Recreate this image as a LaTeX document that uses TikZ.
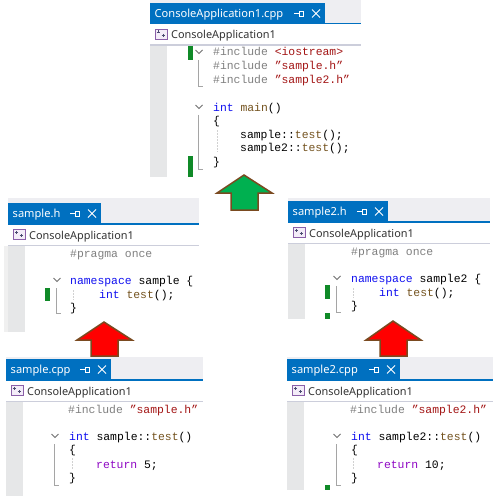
\documentclass[tikz,border=0pt]{standalone}
\usepackage{fontspec}
\setmainfont{Noto Sans}
\setmonofont{Liberation Mono}
\definecolor{vsblue}{HTML}{0070C0}
\definecolor{tabblue}{HTML}{0070C0}
\definecolor{strip}{HTML}{EEEEF2}
\definecolor{gutter}{HTML}{E6E7E8}
\definecolor{hline}{HTML}{CCCEDB}
\definecolor{barg}{HTML}{108A28}
\definecolor{kw}{HTML}{1010F0}
\definecolor{str}{HTML}{A31515}
\definecolor{fn}{HTML}{74531F}
\definecolor{pp}{HTML}{808080}
\definecolor{ctl}{HTML}{8F08C4}
\definecolor{foldc}{HTML}{A5A5A5}
\definecolor{chev}{HTML}{707070}
\definecolor{arrowedge}{HTML}{7A4A20}
\definecolor{iconedge}{HTML}{8A5FA8}
\definecolor{iconfill}{HTML}{F3ECF8}
\definecolor{iconplus}{HTML}{4A4A70}
\newcommand{\kwd}[1]{\textcolor{kw}{#1}}
\newcommand{\strg}[1]{\textcolor{str}{#1}}
\newcommand{\fnc}[1]{\textcolor{fn}{#1}}
\newcommand{\prep}[1]{\textcolor{pp}{#1}}
\newcommand{\ctlk}[1]{\textcolor{ctl}{#1}}
% #1 name, #2 left, #3 right, #4 top of strip, #5 tab top, #6 tab right, #7 bottom, #8 tab title
\newcommand{\panel}[8]{%
  \fill[white] (#2,#4) rectangle (#3,#7);
  \fill[strip] (#2,#4) rectangle (#3,#5+21);
  \fill[vsblue] (#2,#5+20) rectangle (#3,#5+21.5);
  \fill[tabblue] (#2,#5) rectangle (#6,#5+21);
  \fill[gutter] (#2,#5+42) rectangle (#2+17,#7);
  \fill[hline] (#2,#5+41.5) rectangle (#3,#5+43);
  \node[tabtext] (#1title) at (#2+4.5,#5+14.5) {#8};
  \draw[white,line width=.9pt] (#6-13,#5+6.5) -- (#6-5,#5+14.5) (#6-13,#5+14.5) -- (#6-5,#5+6.5);
  \draw[white,line width=.8pt] (#6-31,#5+10.5) -- (#6-26,#5+10.5) (#6-26,#5+8) -- (#6-26,#5+13) (#6-26,#5+8) -- (#6-22,#5+8) -- (#6-22,#5+13) -- (#6-26,#5+13);
  \draw[iconbox] (#2+5,#5+26) rectangle (#2+17,#5+36);
  \draw[iconplus,line width=.6pt] (#2+6.5,#5+29) -- (#2+9.5,#5+29) (#2+8,#5+27.5) -- (#2+8,#5+30.5) (#2+11.5,#5+32.5) -- (#2+15,#5+32.5) (#2+13.2,#5+31) -- (#2+13.2,#5+34);
  \node[hdrtext] (#1hdr) at (#2+21,#5+36) {ConsoleApplication1};
}
% #1 x, #2 y of chevron, #3 y of foot
\newcommand{\foldmark}[3]{%
  \draw[chev,line width=.9pt] (#1-3.5,#2-2) -- (#1,#2+1.5) -- (#1+3.5,#2-2);
  \draw[foldc,line width=.7pt] (#1-.5,#2+8) -- (#1-.5,#3) -- (#1+4,#3);
}
\tikzset{
  code/.style={anchor=base west,inner sep=0pt,font=\ttfamily\fontsize{11.4}{12}\selectfont},
  tabtext/.style={anchor=base west,inner sep=0pt,text=white,font=\fontsize{11.1}{12}\selectfont},
  hdrtext/.style={anchor=base west,inner sep=0pt,text=black!80,font=\fontsize{10.9}{12}\selectfont},
  iconbox/.style={draw=iconedge,fill=iconfill,line width=.7pt},
  greenbar/.style={fill=barg},
  guide/.style={draw=black!18,line width=.7pt,dash pattern=on 1.5pt off 1.5pt},
  bigarrow/.style={draw=arrowedge,line width=1.5pt,line join=miter},
}
\begin{document}
\begin{tikzpicture}[x=1pt,y=-1pt]
\useasboundingbox (0,0) rectangle (496,500);
\fill[white] (0,0) rectangle (496,500);

% main panel
\panel{a}{150}{361}{0}{3}{325}{177}{ConsoleApplication1.cpp}
\fill[greenbar] (188,46) rectangle (193,60);
\fill[greenbar] (188,156) rectangle (193,177);
\foldmark{199}{52}{86}
\foldmark{199}{107}{169}
\draw[guide] (217,130) -- (217,152);
\node[code] (a1) at (213,56) {\prep{\#include} \strg{<iostream>}};
\node[code] (a2) at (213,70) {\prep{\#include} \strg{”sample.h”}};
\node[code] (a3) at (213,83.5) {\prep{\#include} \strg{”sample2.h”}};
\node[code] (a4) at (213,111) {\kwd{int} \fnc{main}()};
\node[code] (a5) at (213,124.5) {\{};
\node[code] (a6) at (240,138) {sample::\fnc{test}();};
\node[code] (a7) at (240,151.5) {sample2::\fnc{test}();};
\node[code] (a8) at (213,165) {\}};

% sample.h
\panel{b}{8}{199}{198}{203}{101}{332}{sample.h}
\fill[gray!12] (4,246) rectangle (8,332);
\fill[greenbar] (45,288) rectangle (50,301);
\foldmark{57}{280}{313}
\draw[guide] (73,290) -- (73,300);
\node[code] (b1) at (70,257) {\prep{\#pragma once}};
\node[code] (b2) at (70,284) {\kwd{namespace} sample \{};
\node[code] (b3) at (99,298) {\kwd{int} \fnc{test}();};
\node[code] (b4) at (70,311) {\}};

% sample2.h
\panel{c}{288}{490}{198}{201}{388}{319}{sample2.h}
\fill[greenbar] (325,285) rectangle (330,299);
\fill[greenbar] (325,313) rectangle (330,319);
\foldmark{337}{278}{312}
\draw[guide] (353,288) -- (353,298);
\node[code] (c1) at (351,255) {\prep{\#pragma once}};
\node[code] (c2) at (351,282) {\kwd{namespace} sample2 \{};
\node[code] (c3) at (379,296) {\kwd{int} \fnc{test}();};
\node[code] (c4) at (351,309) {\}};

% sample.cpp
\panel{d}{6}{203}{357}{359}{111}{496}{sample.cpp}
\foldmark{55}{436}{485}
\draw[guide] (72,458) -- (72,470);
\node[code] (d1) at (68,413) {\prep{\#include} \strg{”sample.h”}};
\node[code] (d2) at (69,440) {\kwd{int} sample::\fnc{test}()};
\node[code] (d3) at (69,453) {\{};
\node[code] (d4) at (96,468) {\ctlk{return} 5;};
\node[code] (d5) at (69,481) {\}};

% sample2.cpp
\panel{e}{287}{493}{357}{359}{400}{490}{sample2.cpp}
\fill[greenbar] (325,485) rectangle (330,490);
\foldmark{337}{436}{485}
\draw[guide] (353,458) -- (353,470);
\node[code] (e1) at (350,413) {\prep{\#include} \strg{”sample2.h”}};
\node[code] (e2) at (351,440) {\kwd{int} sample2::\fnc{test}()};
\node[code] (e3) at (351,453) {\{};
\node[code] (e4) at (377,468) {\ctlk{return} 10;};
\node[code] (e5) at (351,481) {\}};

% arrows
\draw[bigarrow,fill={rgb,255:red,0;green,176;blue,80}] (244,175) -- (272,193) -- (258,193) -- (258,210) -- (231,210) -- (231,193) -- (217,193) -- cycle;
\draw[bigarrow,fill=red] (104,322) -- (132,340) -- (118,340) -- (118,356) -- (91,356) -- (91,340) -- (77,340) -- cycle;
\draw[bigarrow,fill=red] (393,321) -- (421,340) -- (407,340) -- (407,356) -- (380,356) -- (380,340) -- (366,340) -- cycle;
\end{tikzpicture}
\end{document}
